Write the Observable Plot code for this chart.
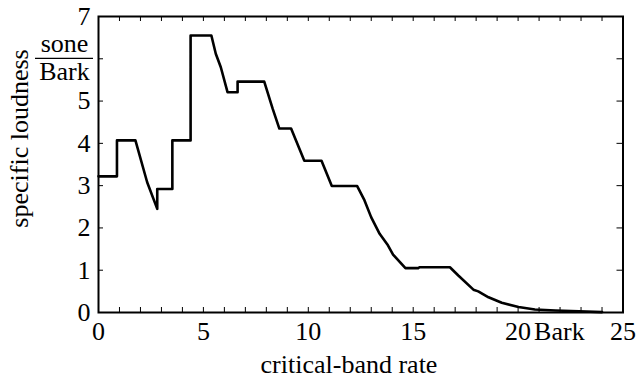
<!DOCTYPE html>
<html>
<head>
<meta charset="utf-8">
<script src="https://cdn.jsdelivr.net/npm/d3@7"></script>
<script src="https://cdn.jsdelivr.net/npm/@observablehq/plot@0.6"></script>
<style>
  html, body { margin: 0; padding: 0; background: white; }
  #chart svg { display: block; }
</style>
</head>
<body>
<div id="chart"></div>
<script>
// critical-band rate (Bark)
const bark = [0, 0.88, 0.88, 1.76, 2.32, 2.8, 2.8, 3.52, 3.52, 4.39, 4.39, 5.38, 5.59, 5.83, 6.15, 6.63, 6.63, 7.9, 8.3, 8.62, 9.18, 9.81, 10.63, 11.12, 12.33, 12.68, 13.0, 13.4, 13.77, 14.04, 14.63, 15.24, 15.3, 16.75, 17.15, 17.87, 18.1, 18.59, 19.22, 20.02, 20.8, 21.78, 22.9, 24.0];
// specific loudness (sone/Bark)
const loudness = [3.22, 3.22, 4.07, 4.07, 3.08, 2.45, 2.92, 2.92, 4.07, 4.07, 6.55, 6.55, 6.12, 5.80, 5.21, 5.21, 5.46, 5.46, 4.82, 4.35, 4.35, 3.59, 3.59, 2.99, 2.99, 2.65, 2.25, 1.86, 1.61, 1.37, 1.05, 1.05, 1.07, 1.07, 0.875, 0.54, 0.5, 0.36, 0.23, 0.13, 0.07, 0.047, 0.03, 0.01];

const xMinorTicks = d3.range(1, 25);
const yMinorTicks = d3.range(1, 7);
const xLabelTicks = [0, 5, 10, 15, 20, 25];
const yLabelTicks = [0, 1, 2, 3, 4, 5, 7];
const xUnit = "Bark";
const yUnitTop = "sone";
const yUnitBottom = "Bark";
const xTitle = "critical-band rate";
const yTitle = "specific loudness";

const data = bark.map((b, i) => ({bark: b, loudness: loudness[i]}));

const FONT = "'Liberation Serif', 'DejaVu Serif', serif";
const W = 637, H = 383;
const mL = 98, mR = 14.5, mT = 16, mB = 71;
const tickPx = 5;
const xTickLen = tickPx / ((W - mL - mR) / 25);
const yTickLen = tickPx / ((H - mT - mB) / 7);

const chart = Plot.plot({
  width: W,
  height: H,
  marginLeft: mL,
  marginRight: mR,
  marginTop: mT,
  marginBottom: mB,
  style: {fontFamily: FONT, fontSize: "26px", background: "white", color: "black"},
  x: {domain: [0, 25]},
  y: {domain: [0, 7]},
  marks: [
    Plot.ruleX(xMinorTicks, {x: d => d, y1: 0, y2: yTickLen, stroke: "black", strokeWidth: 1}),
    Plot.ruleX(xMinorTicks, {x: d => d, y1: 7, y2: 7 - yTickLen, stroke: "black", strokeWidth: 1}),
    Plot.ruleY(yMinorTicks, {y: d => d, x1: 0, x2: xTickLen, stroke: "black", strokeWidth: 1}),
    Plot.ruleY(yMinorTicks, {y: d => d, x1: 25, x2: 25 - xTickLen * 1.2, stroke: "black", strokeWidth: 1}),
    Plot.axisX(xLabelTicks, {tickSize: 0, tickPadding: 9, label: null, fontSize: 26, tickFormat: d => String(d)}),
    Plot.axisY(yLabelTicks, {tickSize: 0, tickPadding: 8, label: null, fontSize: 26, tickFormat: d => String(d)}),
    Plot.text([xUnit], {x: 20, y: 0, text: d => d, textAnchor: "start", lineAnchor: "top", dx: 16, dy: 9, fontSize: 26}),
    Plot.text([yUnitTop], {x: 0, y: 6, text: d => d, textAnchor: "middle", dx: -34, dy: -15, fontSize: 26}),
    Plot.text([yUnitBottom], {x: 0, y: 6, text: d => d, textAnchor: "middle", dx: -34, dy: 13, fontSize: 26}),
    Plot.line(data, {x: "bark", y: "loudness", stroke: "black", strokeWidth: 2.6, strokeLinejoin: "round"}),
    Plot.frame({stroke: "black", strokeWidth: 2})
  ]
});

const svg = d3.select(chart);
const yS = chart.scale("y");
const xS = chart.scale("x");
const y6 = yS.apply(6);
const x0 = xS.apply(0);
svg.append("line")
  .attr("x1", x0 - 63).attr("x2", x0 - 5)
  .attr("y1", y6).attr("y2", y6)
  .attr("stroke", "black").attr("stroke-width", 1.3);
svg.append("text")
  .attr("x", 349).attr("y", 373)
  .attr("text-anchor", "middle")
  .attr("font-size", 26)
  .attr("fill", "black")
  .text(xTitle);
svg.append("text")
  .attr("transform", `translate(28,${138.5}) rotate(-90)`)
  .attr("text-anchor", "middle")
  .attr("font-size", 26)
  .attr("fill", "black")
  .text(yTitle);
svg.selectAll("text").style("font-family", FONT);

document.getElementById("chart").appendChild(chart);
</script>
</body>
</html>
